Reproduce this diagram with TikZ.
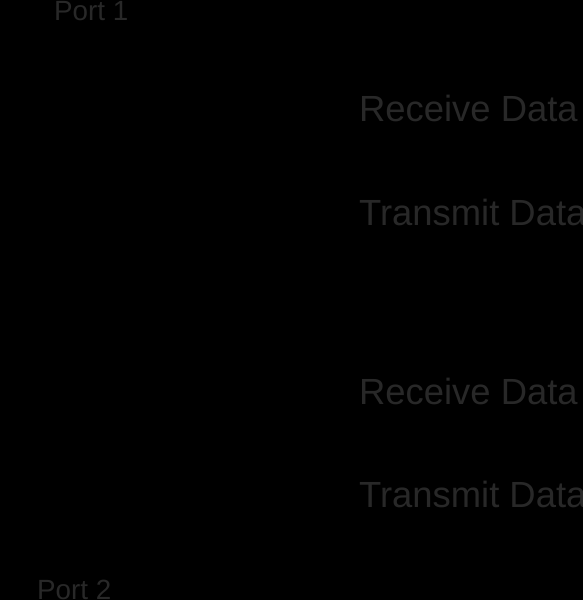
\documentclass[tikz,border=0pt]{standalone}
\usepackage{fontspec}
\setmainfont{Liberation Sans}
\definecolor{dimtext}{HTML}{282828}

\begin{document}
\begin{tikzpicture}[x=1pt, y=-1pt,
  lbl/.style={text=dimtext, inner sep=0pt, anchor=base west, font=\fontsize{36.4}{40}\selectfont},
  portlbl/.style={lbl, font=\fontsize{27.8}{30}\selectfont}]
\useasboundingbox (0,0) rectangle (583,600);
\fill[black] (-5,-5) rectangle (590,605);
\node[portlbl] (port1) at (54,20) {Port 1};
\node[lbl] (rx1) at (359,121) {Receive Data};
\node[lbl] (tx1) at (359,225) {Transmit Data};
\node[lbl] (rx2) at (359,404) {Receive Data};
\node[lbl] (tx2) at (359,507) {Transmit Data};
\node[portlbl] (port2) at (37,599) {Port 2};
\end{tikzpicture}
\end{document}
